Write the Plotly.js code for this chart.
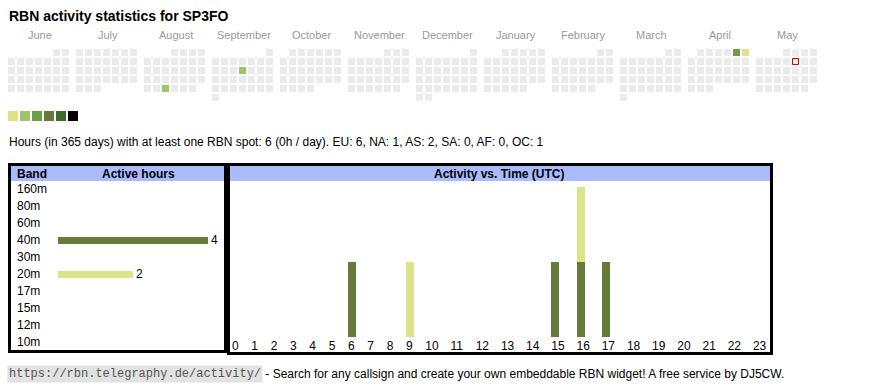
<!DOCTYPE html>
<html><head><meta charset="utf-8">
<script src="https://cdn.plot.ly/plotly-3.0.1.min.js"></script>
<style>html,body{margin:0;padding:0;background:#fff;} #chart{width:870px;height:390px;}</style>
</head><body><div id="chart"></div>
<script>
// ---------------- data ----------------
const callsign = 'SP3FO';
const monthNames = ['June','July','August','September','October','November','December','January','February','March','April','May'];
const monthStarts = ['2024-06','2024-07','2024-08','2024-09','2024-10','2024-11','2024-12','2025-01','2025-02','2025-03','2025-04','2025-05'];
const activeDays = ['2024-08-28','2024-09-12','2025-04-05','2025-04-06'];
const activeLevels = [1,1,2,0];
const todayDate = '2025-05-09';
const levelColors = ['#dbe38b','#9fc46a','#6b9f47','#667a3a','#3d6b29','#000000'];
const emptyColor = '#ebebeb';
const bands = ['160m','80m','60m','40m','30m','20m','17m','15m','12m','10m'];
const bandHours = [0,0,0,4,0,2,0,0,0,0];
const bandColors = ['#3d6b29','#3d6b29','#667a3a','#667a3a','#9fc46a','#dbe38b','#dbe38b','#dbe38b','#dbe38b','#dbe38b'];
const hourLabels = ['0','1','2','3','4','5','6','7','8','9','10','11','12','13','14','15','16','17','18','19','20','21','22','23'];
const hours40m = [0,0,0,0,0,0,1,0,0,0,0,0,0,0,0,1,1,1,0,0,0,0,0,0];
const hours20m = [0,0,0,0,0,0,0,0,0,1,0,0,0,0,0,0,1,0,0,0,0,0,0,0];
const color40m = '#667a3a';
const color20m = '#dbe38b';
const summaryText = 'Hours (in 365 days) with at least one RBN spot: 6 (0h / day). EU: 6, NA: 1, AS: 2, SA: 0, AF: 0, OC: 1';
const footerUrl = 'https://rbn.telegraphy.de/activity/';
const footerText = ' - Search for any callsign and create your own embeddable RBN widget! A free service by DJ5CW.';

// ---------------- layout helpers ----------------
const W = 870, H = 390;
const px = v => v / W;
const py = v => 1 - v / H;
const SANS = 'Liberation Sans, Arial, Helvetica, sans-serif';

// calendar cells (month blocks of weekday columns x week rows)
const calX = [], calY = [], calC = [];
const activeMap = {};
activeDays.forEach((d, i) => activeMap[d] = levelColors[activeLevels[i]]);
let todayXY = null;
monthStarts.forEach((ms, mi) => {
  const [yy, mm] = ms.split('-').map(Number);
  const first = new Date(Date.UTC(yy, mm - 1, 1));
  const firstWd = (first.getUTCDay() + 6) % 7;
  const nDays = new Date(Date.UTC(yy, mm, 0)).getUTCDate();
  for (let d = 1; d <= nDays; d++) {
    const wd = (firstWd + d - 1) % 7;
    const row = Math.floor((firstWd + d - 1) / 7);
    const x = 8 + 68 * mi + 9 * wd + 3.5;
    const y = 49 + 9 * row + 3.5;
    const key = ms + '-' + String(d).padStart(2, '0');
    calX.push(x); calY.push(y); calC.push(activeMap[key] || emptyColor);
    if (key === todayDate) todayXY = [x, y];
  }
});

// hour table cells: width follows label length (like an auto-sized table)
const cellLeft = [];
let acc = 2;
hourLabels.forEach(l => { cellLeft.push(acc); acc += 13.46 + 5.87 * l.length; });
const barX = cellLeft.map(v => v + 4);

const traces = [
  { type:'scatter', mode:'markers', x:calX, y:calY, xaxis:'x', yaxis:'y', hoverinfo:'skip',
    marker:{symbol:'square', size:7, color:calC, line:{width:0}} },
  { type:'scatter', mode:'markers', x:[todayXY[0]], y:[todayXY[1]], xaxis:'x', yaxis:'y', hoverinfo:'skip',
    marker:{symbol:'square', size:6, color:emptyColor, line:{width:1, color:'#e00000'}} },
  { type:'scatter', mode:'markers', x:levelColors.map((c,i)=>13+12*i), y:levelColors.map(()=>116), xaxis:'x', yaxis:'y', hoverinfo:'skip',
    marker:{symbol:'square', size:10, color:levelColors, line:{width:0}} },
  { type:'bar', orientation:'h', x:bandHours, y:bands, xaxis:'x2', yaxis:'y2', width:7/17,
    marker:{color:bandColors, line:{width:0}},
    text:bandHours.map(v => v > 0 ? String(v) : ''), textposition:'outside', cliponaxis:false, constraintext:'none',
    textfont:{family:SANS, size:12, color:'#000'}, hoverinfo:'skip' },
  { type:'bar', x:barX, y:hours40m, xaxis:'x3', yaxis:'y3', width:8, marker:{color:color40m, line:{width:0}}, hoverinfo:'skip' },
  { type:'bar', x:barX, y:hours20m, xaxis:'x3', yaxis:'y3', width:8, marker:{color:color20m, line:{width:0}}, hoverinfo:'skip' }
];

const ann = [];
const A = (o) => ann.push(Object.assign({showarrow:false, xref:'x', yref:'y', font:{family:SANS, size:12, color:'#000'}}, o));
A({x:7, y:16, xanchor:'left', yanchor:'middle', text:'RBN activity statistics for ' + callsign, font:{family:SANS, size:14, color:'#000', weight:'bold'}});
monthNames.forEach((m, i) => A({x:8 + 68 * i + 31.5, y:35, xanchor:'center', yanchor:'middle', text:m, font:{family:SANS, size:11, color:'#999'}}));
A({x:7, y:142, xanchor:'left', yanchor:'middle', text:summaryText});
A({x:15, y:173.5, xanchor:'left', yanchor:'middle', text:'Band', font:{family:SANS, size:12, color:'#000', weight:'bold'}});
A({x:138, y:173.5, xanchor:'center', yanchor:'middle', text:'Active hours', font:{family:SANS, size:12, color:'#000', weight:'bold'}});
A({x:499, y:173.5, xanchor:'center', yanchor:'middle', text:'Activity vs. Time (UTC)', font:{family:SANS, size:12, color:'#000', weight:'bold'}});
bands.forEach(b => A({x:15, y:b, yref:'y2', xanchor:'left', yanchor:'middle', text:b}));
A({x:7, y:374, xanchor:'left', yanchor:'middle', text:footerUrl, bgcolor:'#e2e2e2', borderpad:1,
   font:{family:'Liberation Mono, DejaVu Sans Mono, monospace', size:12, color:'#555'}});
A({x:260, y:374, xanchor:'left', yanchor:'middle', text:footerText.replace(/^ /, '&nbsp;')});

const shapes = [
  {type:'rect', xref:'x', yref:'y', x0:11, x1:224, y0:166, y1:181, fillcolor:'#aabbff', line:{width:0}, layer:'below'},
  {type:'rect', xref:'x', yref:'y', x0:230, x1:770, y0:166, y1:181, fillcolor:'#aabbff', line:{width:0}, layer:'below'},
  {type:'rect', xref:'x', yref:'y', x0:9.5, x1:225.5, y0:164.5, y1:351.5, line:{width:3, color:'#000'}, layer:'above'},
  {type:'rect', xref:'x', yref:'y', x0:228.5, x1:771.5, y0:164.5, y1:353.5, line:{width:3, color:'#000'}, layer:'above'}
];

const layout = {
  width:W, height:H, margin:{l:0, r:0, t:0, b:0, pad:0},
  paper_bgcolor:'#ffffff', plot_bgcolor:'rgba(0,0,0,0)',
  showlegend:false, barmode:'stack', bargap:0,
  font:{family:SANS, size:12, color:'#000'},
  xaxis:{domain:[0,1], range:[0,W], visible:false, fixedrange:true},
  yaxis:{domain:[0,1], range:[H,0], visible:false, fixedrange:true},
  xaxis2:{domain:[px(58), px(208)], range:[0,4], anchor:'y2', visible:false},
  yaxis2:{domain:[py(350.5), py(180.5)], type:'category', categoryorder:'array', categoryarray:bands, range:[9.5,-0.5], anchor:'x2', visible:false},
  xaxis3:{domain:[px(230), px(770)], range:[0,540], anchor:'y3', tickmode:'array', tickvals:cellLeft, ticktext:hourLabels,
          ticklabelposition:'outside right', ticks:'', showgrid:false, zeroline:false, showline:false,
          tickfont:{family:SANS, size:12, color:'#000'}},
  yaxis3:{domain:[py(337), py(187)], range:[0,2], anchor:'x3', visible:false},
  annotations:ann, shapes:shapes
};

Plotly.newPlot('chart', traces, layout, {staticPlot:true, displayModeBar:false});
</script>
</body></html>
